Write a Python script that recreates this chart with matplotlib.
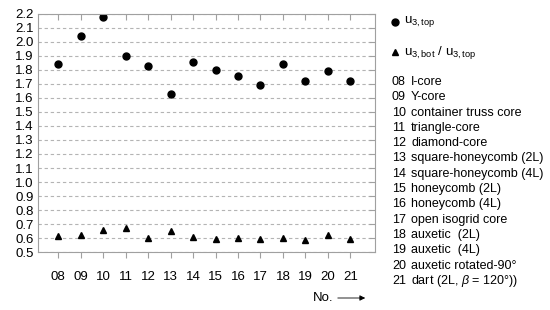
import matplotlib
matplotlib.use("Agg")
import matplotlib.pyplot as plt
import numpy as np

plt.rcParams['font.family'] = ['Liberation Sans', 'DejaVu Sans']
plt.rcParams['mathtext.fontset'] = 'custom'
plt.rcParams['mathtext.rm'] = 'Liberation Sans'
plt.rcParams['mathtext.it'] = 'Liberation Sans:italic'

# Data
core_no = ['08', '09', '10', '11', '12', '13', '14', '15', '16', '17', '18', '19', '20', '21']
u3_top = [1.84, 2.04, 2.18, 1.90, 1.83, 1.63, 1.86, 1.80, 1.76, 1.69, 1.84, 1.72, 1.79, 1.72]
u3_ratio = [0.615, 0.625, 0.655, 0.675, 0.60, 0.65, 0.607, 0.59, 0.60, 0.59, 0.60, 0.585, 0.625, 0.59]
core_names = ['I-core', 'Y-core', 'container truss core', 'triangle-core', 'diamond-core',
              'square-honeycomb (2L)', 'square-honeycomb (4L)', 'honeycomb (2L)', 'honeycomb (4L)',
              'open isogrid core', 'auxetic  (2L)', 'auxetic  (4L)', 'auxetic rotated-90\u00b0',
              'dart (2L, $\\beta$ = 120\u00b0))']

FS = 9.0
TFS = 9.5
GRAY = '#a0a0a0'

fig = plt.figure(figsize=(5.5, 3.1), dpi=100)
ax = fig.add_axes([0.069, 0.187, 0.613, 0.768])

x = np.arange(8, 8 + len(core_no))
ax.plot(x, u3_top, 'o', color='black', markersize=5)
ax.plot(x, u3_ratio, '^', color='black', markersize=5)

ax.set_xlim(7.1, 22.1)
ax.set_ylim(0.5, 2.2)
ax.set_xticks(x)
ax.set_xticklabels(core_no, fontsize=TFS)
yt = np.round(np.arange(0.5, 2.21, 0.1), 1)
ax.set_yticks(yt)
ax.set_yticklabels([f'{v:.1f}' for v in yt], fontsize=TFS)
ax.tick_params(axis='x', direction='out', length=4, color=GRAY, pad=10, top=True)
ax.tick_params(axis='y', left=False, right=True, direction='in', length=4, color=GRAY, pad=3)
# top ticks pointing inward
for t in ax.xaxis.get_major_ticks():
    t.tick2line.set_marker(3)
    t.tick2line.set_markersize(4)
ax.grid(axis='y', linestyle=(0, (3, 2.5)), color='#b4b4b4', linewidth=0.8)
for s in ax.spines.values():
    s.set_color(GRAY)
    s.set_linewidth(0.8)

# legend / key on the right
fx = lambda px: px / 550
fy = lambda py: 1 - py / 310
fig.lines.append(plt.Line2D([fx(395)], [fy(22)], marker='o', color='black', markersize=5,
                            transform=fig.transFigure))
fig.lines.append(plt.Line2D([fx(395)], [fy(52)], marker='^', color='black', markersize=5,
                            transform=fig.transFigure))
fig.text(fx(404), fy(22), r'u$_{3,\mathrm{top}}$', fontsize=FS + 0.5, va='center')
fig.text(fx(404), fy(52), r'u$_{3,\mathrm{bot}}$ / u$_{3,\mathrm{top}}$', fontsize=FS + 0.5, va='center')
for i, (n, name) in enumerate(zip(core_no, core_names)):
    yy = fy(82 + i * 15.3)
    fig.text(fx(392), yy, n, fontsize=FS, va='center')
    fig.text(fx(411), yy, name, fontsize=FS, va='center')

fig.text(fx(313), fy(298), 'No.', fontsize=TFS, va='center')
ax.annotate('', xy=(fx(368), fy(298)), xytext=(fx(335), fy(298)),
            xycoords='figure fraction', textcoords='figure fraction',
            arrowprops=dict(arrowstyle='-|>', color='black', lw=0.6, mutation_scale=8))

fig.savefig('out.png', dpi=100)
